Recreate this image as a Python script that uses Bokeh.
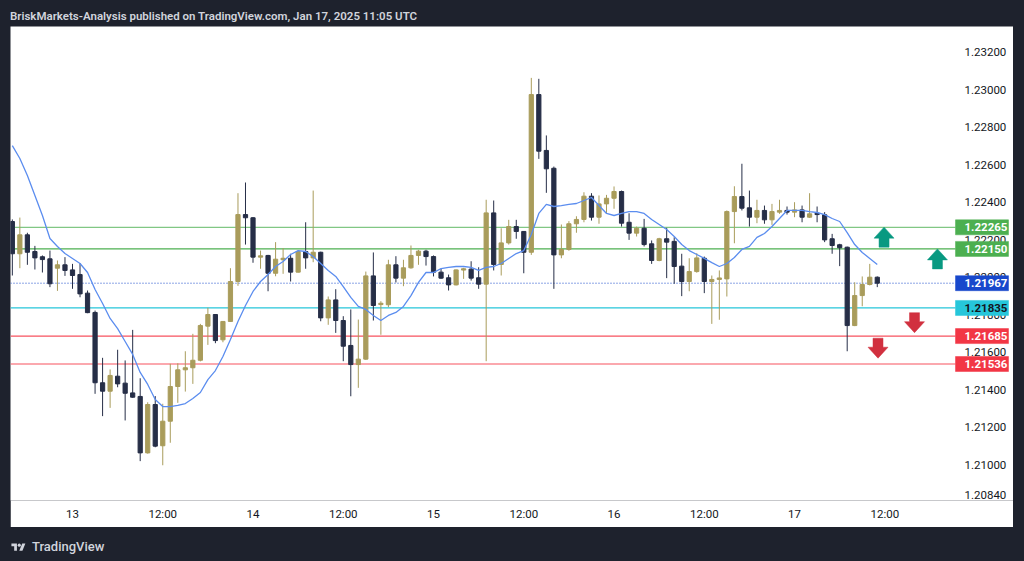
from bokeh.plotting import figure
from bokeh.models import Label, FixedTicker, NumeralTickFormatter, Div, ColumnDataSource, Range1d
from bokeh.layouts import column
from bokeh.embed import file_html
from bokeh.resources import INLINE

# ---------------- data (hourly candles, index 0 = Jan 13 00:00) ----------------
hours = list(range(-8, 108))

opens = [
    1.22296, 1.22124, 1.22225, 1.22136, 1.22108, 1.22097, 1.22047, 1.22065, 1.22038, 1.22013, 1.21914, 1.21811,
    1.21436, 1.21391, 1.21471, 1.21434, 1.21382, 1.21363, 1.21062, 1.21320, 1.21100, 1.21231, 1.21416, 1.21505,
    1.21516, 1.21556, 1.21738, 1.21800, 1.21665, 1.21763, 1.21976, 1.22333, 1.22316, 1.22106, 1.22115, 1.22020,
    1.22092, 1.22100, 1.22026, 1.22136, 1.22102, 1.22132, 1.21782, 1.21878, 1.21768, 1.21635, 1.21533, 1.21562,
    1.22006, 1.21853, 1.21852, 1.22065, 1.21994, 1.22049, 1.22115, 1.22138, 1.22109, 1.22026, 1.21996, 1.21958,
    1.22037, 1.22042, 1.21996, 1.21962, 1.22342, 1.22067, 1.22182, 1.22269, 1.22243, 1.22132, 1.22973, 1.22675,
    1.22580, 1.22118, 1.22147, 1.22284, 1.22307, 1.22431, 1.22319, 1.22390, 1.22420, 1.22456, 1.22292, 1.22234,
    1.22260, 1.22177, 1.22088, 1.22204, 1.22190, 1.22058, 1.21976, 1.22029, 1.22100, 1.21976, 1.21987, 1.21990,
    1.22349, 1.22429, 1.22369, 1.22319, 1.22355, 1.22305, 1.22346, 1.22355, 1.22346, 1.22358, 1.22319, 1.22340,
    1.22332, 1.22204, 1.22172, 1.22159, 1.21741, 1.21901, 1.21960, 1.21999,
]
highs = [
    1.22307, 1.22317, 1.22236, 1.22166, 1.22115, 1.22141, 1.22088, 1.22106, 1.22070, 1.22074, 1.21928, 1.21821,
    1.21569, 1.21507, 1.21612, 1.21555, 1.21718, 1.21460, 1.21332, 1.21365, 1.21324, 1.21537, 1.21540, 1.21604,
    1.21697, 1.21750, 1.21836, 1.21802, 1.21765, 1.22047, 1.22447, 1.22504, 1.22320, 1.22141, 1.22118, 1.22186,
    1.22154, 1.22124, 1.22141, 1.22292, 1.22461, 1.22135, 1.21896, 1.21935, 1.21791, 1.21827, 1.21773, 1.22029,
    1.22131, 1.21871, 1.22092, 1.22111, 1.22092, 1.22168, 1.22145, 1.22145, 1.22115, 1.22044, 1.22013, 1.22040,
    1.22049, 1.22084, 1.22052, 1.22412, 1.22408, 1.22260, 1.22305, 1.22305, 1.22245, 1.23062, 1.23057, 1.22755,
    1.22589, 1.22280, 1.22298, 1.22324, 1.22452, 1.22447, 1.22435, 1.22438, 1.22483, 1.22461, 1.22340, 1.22269,
    1.22310, 1.22195, 1.22209, 1.22262, 1.22212, 1.22124, 1.22100, 1.22127, 1.22109, 1.22008, 1.22035, 1.22355,
    1.22484, 1.22604, 1.22461, 1.22412, 1.22381, 1.22390, 1.22412, 1.22376, 1.22399, 1.22381, 1.22447, 1.22376,
    1.22346, 1.22230, 1.22177, 1.22162, 1.21972, 1.22003, 1.22070, 1.22003,
]
lows = [
    1.22008, 1.22047, 1.22065, 1.22040, 1.22024, 1.21946, 1.21926, 1.22006, 1.21937, 1.21892, 1.21807, 1.21377,
    1.21258, 1.21302, 1.21412, 1.21235, 1.21356, 1.21018, 1.21058, 1.21092, 1.20996, 1.21116, 1.21329, 1.21389,
    1.21430, 1.21550, 1.21638, 1.21647, 1.21652, 1.21760, 1.21953, 1.22173, 1.22076, 1.22044, 1.21924, 1.22004,
    1.22017, 1.21976, 1.22024, 1.22044, 1.22079, 1.21764, 1.21745, 1.21702, 1.21551, 1.21364, 1.21409, 1.21558,
    1.21768, 1.21692, 1.21839, 1.21971, 1.21951, 1.22044, 1.22065, 1.22061, 1.22003, 1.21990, 1.21928, 1.21955,
    1.21990, 1.21981, 1.21937, 1.21551, 1.22035, 1.22008, 1.22173, 1.22204, 1.22020, 1.22118, 1.22630, 1.22449,
    1.21937, 1.22100, 1.22140, 1.22236, 1.22292, 1.22301, 1.22284, 1.22337, 1.22364, 1.22269, 1.22198, 1.22216,
    1.22163, 1.22070, 1.22084, 1.21994, 1.21964, 1.21898, 1.21924, 1.22023, 1.21914, 1.21750, 1.21772, 1.21896,
    1.22180, 1.22355, 1.22269, 1.22287, 1.22284, 1.22278, 1.22337, 1.22333, 1.22319, 1.22292, 1.22315, 1.22292,
    1.22186, 1.22124, 1.22058, 1.21604, 1.21738, 1.21844, 1.21955, 1.21946,
]
closes = [
    1.22124, 1.22225, 1.22132, 1.22102, 1.22093, 1.21964, 1.22065, 1.22035, 1.22008, 1.21910, 1.21810, 1.21436,
    1.21391, 1.21475, 1.21430, 1.21380, 1.21359, 1.21062, 1.21320, 1.21098, 1.21231, 1.21416, 1.21505, 1.21516,
    1.21556, 1.21741, 1.21800, 1.21661, 1.21763, 1.21976, 1.22333, 1.22316, 1.22106, 1.22113, 1.22020, 1.22095,
    1.22100, 1.22026, 1.22136, 1.22102, 1.22132, 1.21782, 1.21878, 1.21768, 1.21631, 1.21533, 1.21562, 1.22006,
    1.21848, 1.21860, 1.22065, 1.21994, 1.22049, 1.22115, 1.22138, 1.22109, 1.22026, 1.21994, 1.21958, 1.22038,
    1.22044, 1.21994, 1.21962, 1.22342, 1.22067, 1.22182, 1.22269, 1.22243, 1.22132, 1.22973, 1.22671, 1.22577,
    1.22118, 1.22147, 1.22284, 1.22307, 1.22431, 1.22319, 1.22390, 1.22420, 1.22456, 1.22287, 1.22234, 1.22260,
    1.22173, 1.22088, 1.22204, 1.22186, 1.22056, 1.21976, 1.22029, 1.22102, 1.21976, 1.21987, 1.21995, 1.22349,
    1.22429, 1.22367, 1.22319, 1.22355, 1.22305, 1.22349, 1.22355, 1.22346, 1.22358, 1.22319, 1.22337, 1.22333,
    1.22198, 1.22168, 1.22156, 1.21741, 1.21901, 1.21960, 1.21999, 1.21967,
]
ma_values = [
    1.22701, 1.22632, 1.22541, 1.22435, 1.22328, 1.22205, 1.22163, 1.22125, 1.22099, 1.22072, 1.22024, 1.21933,
    1.21859, 1.21779, 1.21725, 1.21656, 1.21587, 1.21491, 1.21427, 1.21347, 1.21309, 1.21309, 1.21315, 1.21325,
    1.21352, 1.21384, 1.21453, 1.21501, 1.21576, 1.21667, 1.21763, 1.21848, 1.21923, 1.21976, 1.22013, 1.22056,
    1.22083, 1.22120, 1.22141, 1.22136, 1.22109, 1.22072, 1.22035, 1.22003, 1.21949, 1.21891, 1.21843, 1.21827,
    1.21795, 1.21768, 1.21795, 1.21811, 1.21843, 1.21901, 1.21971, 1.22024, 1.22024, 1.22045, 1.22051, 1.22056,
    1.22056, 1.22051, 1.22035, 1.22051, 1.22056, 1.22072, 1.22099, 1.22125, 1.22141, 1.22227, 1.22339, 1.22387,
    1.22376, 1.22381, 1.22387, 1.22392, 1.22408, 1.22424, 1.22381, 1.22339, 1.22328, 1.22339, 1.22349, 1.22349,
    1.22339, 1.22307, 1.22280, 1.22253, 1.22216, 1.22173, 1.22141, 1.22120, 1.22099, 1.22077, 1.22056, 1.22072,
    1.22104, 1.22147, 1.22163, 1.22211, 1.22232, 1.22269, 1.22312, 1.22355, 1.22355, 1.22355, 1.22349, 1.22344,
    1.22333, 1.22312, 1.22296, 1.22237, 1.22173, 1.22131, 1.22099, 1.22067,
]
assert len(opens) == len(highs) == len(lows) == len(closes) == len(ma_values) == len(hours)

time_ticks = [0, 12, 24, 36, 48, 60, 72, 84, 96, 108]
time_labels = ["13", "12:00", "14", "12:00", "15", "12:00", "16", "12:00", "17", "12:00"]
price_ticks = [1.2084, 1.210, 1.212, 1.214, 1.216, 1.218, 1.220, 1.222, 1.224, 1.226, 1.228, 1.230, 1.232]

level_prices = [1.22265, 1.22150, 1.21967, 1.21835, 1.21685, 1.21536]
level_labels = ["1.22265", "1.22150", "1.21967", "1.21835", "1.21685", "1.21536"]

arrow_hours = [107.9, 115.0, 111.95, 107.1]
arrow_tip_prices = [1.22266, 1.22150, 1.21703, 1.21567]
arrow_dirs = [1, 1, -1, -1]

# ---------------- styles ----------------
BULL = "#a99c5b"
BEAR = "#262e47"
MA_COLOR = "#5b8def"
AXIS_TEXT = "#131722"
level_line_colors = ["#81c784", "#4caf50", "#1848cc", "#26c6da", "#f7525f", "#f7525f"]
tag_bg = ["#4caf50", "#4caf50", "#1848cc", "#26c6da", "#f23645", "#f23645"]
tag_fg = ["white", "white", "white", AXIS_TEXT, "white", "white"]
arrow_colors = ["#089981", "#089981", "#d1303f", "#d1303f"]

FIG_W, FIG_H = 1003, 501
BORDER_B = 27
FRAME_H = FIG_H - BORDER_B
PANE_W = 945                      # width of the candle pane; price scale sits to its right
X_START, PANE_END = -8.244, 117.40
X_END = X_START + (PANE_END - X_START) * FIG_W / PANE_W
Y_START, Y_END = 1.20808, 1.23336
x_per_px = (X_END - X_START) / FIG_W
y_per_px = (Y_END - Y_START) / FRAME_H

p = figure(width=FIG_W, height=FIG_H, output_backend="svg", toolbar_location=None,
           x_range=Range1d(X_START, X_END), y_range=Range1d(Y_START, Y_END),
           y_axis_location="right", min_border_left=0, min_border_top=0,
           min_border_right=0, min_border_bottom=BORDER_B,
           background_fill_color="white", border_fill_color="white",
           outline_line_color=None)
p.grid.visible = False

# horizontal levels (behind candles, ending at the price scale)
solid_idx = [0, 1, 3, 4, 5]
p.segment(x0=[X_START] * len(solid_idx), y0=[level_prices[i] for i in solid_idx],
          x1=[PANE_END] * len(solid_idx), y1=[level_prices[i] for i in solid_idx],
          line_color=[level_line_colors[i] for i in solid_idx], line_width=1.2, level="underlay")
p.segment(x0=[X_START], y0=[level_prices[2]], x1=[PANE_END], y1=[level_prices[2]],
          line_color=level_line_colors[2], line_width=1, line_dash="1 2", level="underlay")

# candles
top = [max(o, c) for o, c in zip(opens, closes)]
bottom = [min(o, c) for o, c in zip(opens, closes)]
colors = [BULL if c >= o else BEAR for o, c in zip(opens, closes)]
src = ColumnDataSource(dict(t=hours, h=highs, l=lows, top=top, bottom=bottom, color=colors))
p.segment(x0="t", y0="h", x1="t", y1="l", line_color="color", line_width=1, source=src)
p.vbar(x="t", width=0.56, top="top", bottom="bottom", fill_color="color", line_color="color",
       line_width=1, source=src)

# moving average
p.line(hours, ma_values, line_color=MA_COLOR, line_width=1.3)

# arrows (block arrows, size in pixels converted through the scales)
shape = [(0, 0), (10, 11), (5, 11), (5, 20), (-5, 20), (-5, 11), (-10, 11)]
axs, ays = [], []
for t, tip, d in zip(arrow_hours, arrow_tip_prices, arrow_dirs):
    axs.append([t + dx * x_per_px for dx, dy in shape])
    ays.append([tip - d * dy * y_per_px for dx, dy in shape])
p.patches(axs, ays, fill_color=arrow_colors, line_color=arrow_colors, line_width=0.5)

# axes
p.xaxis.ticker = FixedTicker(ticks=time_ticks)
p.xaxis.major_label_overrides = {t: s for t, s in zip(time_ticks, time_labels)}
p.yaxis.ticker = FixedTicker(ticks=price_ticks)
p.yaxis.formatter = NumeralTickFormatter(format="0.00000")
p.yaxis.fixed_location = PANE_END
for ax in (p.xaxis, p.yaxis):
    ax.axis_line_color = None
    ax.major_tick_line_color = None
    ax.minor_tick_line_color = None
    ax.major_tick_out = 0
    ax.major_tick_in = 0
    ax.major_label_text_font = "Roboto"
    ax.major_label_text_font_size = "11.5px"
    ax.major_label_text_color = AXIS_TEXT
p.xaxis.major_label_standoff = 6
p.yaxis.major_label_standoff = 9

# price tags on the scale: box drawn above the axis labels, text above the box
TAG_W, TAG_H = 53, 15
tag_x = PANE_END + (TAG_W / 2) * x_per_px
p.rect(x=[tag_x] * len(level_prices), y=level_prices, width=TAG_W, height=TAG_H,
       width_units="screen", height_units="screen", fill_color=tag_bg, line_color=tag_bg,
       line_width=0.5, level="annotation")
for price, txt, fg in zip(level_prices, level_labels, tag_fg):
    p.add_layout(Label(x=PANE_END, y=price, x_offset=9, text=txt, level="overlay",
                       text_font="Roboto", text_font_size="11.5px", text_font_style="bold",
                       text_color=fg, text_align="left", text_baseline="middle"))

p.margin = (0, 0, 0, 2)

title_div = Div(text=('<div style="margin-left:2px;margin-top:-1px;line-height:14px;color:#d1d4dc;'
                      'font-family:Roboto;font-size:11.5px;font-weight:600;white-space:nowrap">'
                      'BriskMarkets-Analysis published on TradingView.com, Jan 17, 2025 11:05 UTC</div>'),
                width=1005, height=18, margin=(0, 0, 0, 0))

logo_svg = ('<svg width="19" height="11" viewBox="0 0 36 28" style="display:block">'
            '<path d="M14 22H7V11H0V4h14v18zM28 22h-8l7.5-18h8L28 22z" fill="#d1d4dc"/>'
            '<circle cx="20" cy="8" r="4" fill="#d1d4dc"/></svg>')
logo_div = Div(text=('<div style="display:flex;align-items:center;gap:4px;margin-left:1px;padding-top:11px;'
                     'color:#d1d4dc;font-family:Roboto;font-size:13px;font-weight:500">'
                     + logo_svg + '<span>TradingView</span></div>'),
               width=300, height=26, margin=(0, 0, 0, 0))

layout = column(title_div, p, logo_div, spacing=0)

TEMPLATE = """{% block preamble %}<style>
html { background: #1e222d !important; overflow: hidden !important; }
body { background: #1e222d !important; margin: 0 !important; padding: 8px !important; box-sizing: border-box !important; }
</style>{% endblock %}"""

open("out.html", "w").write(file_html(layout, INLINE, template=TEMPLATE))
